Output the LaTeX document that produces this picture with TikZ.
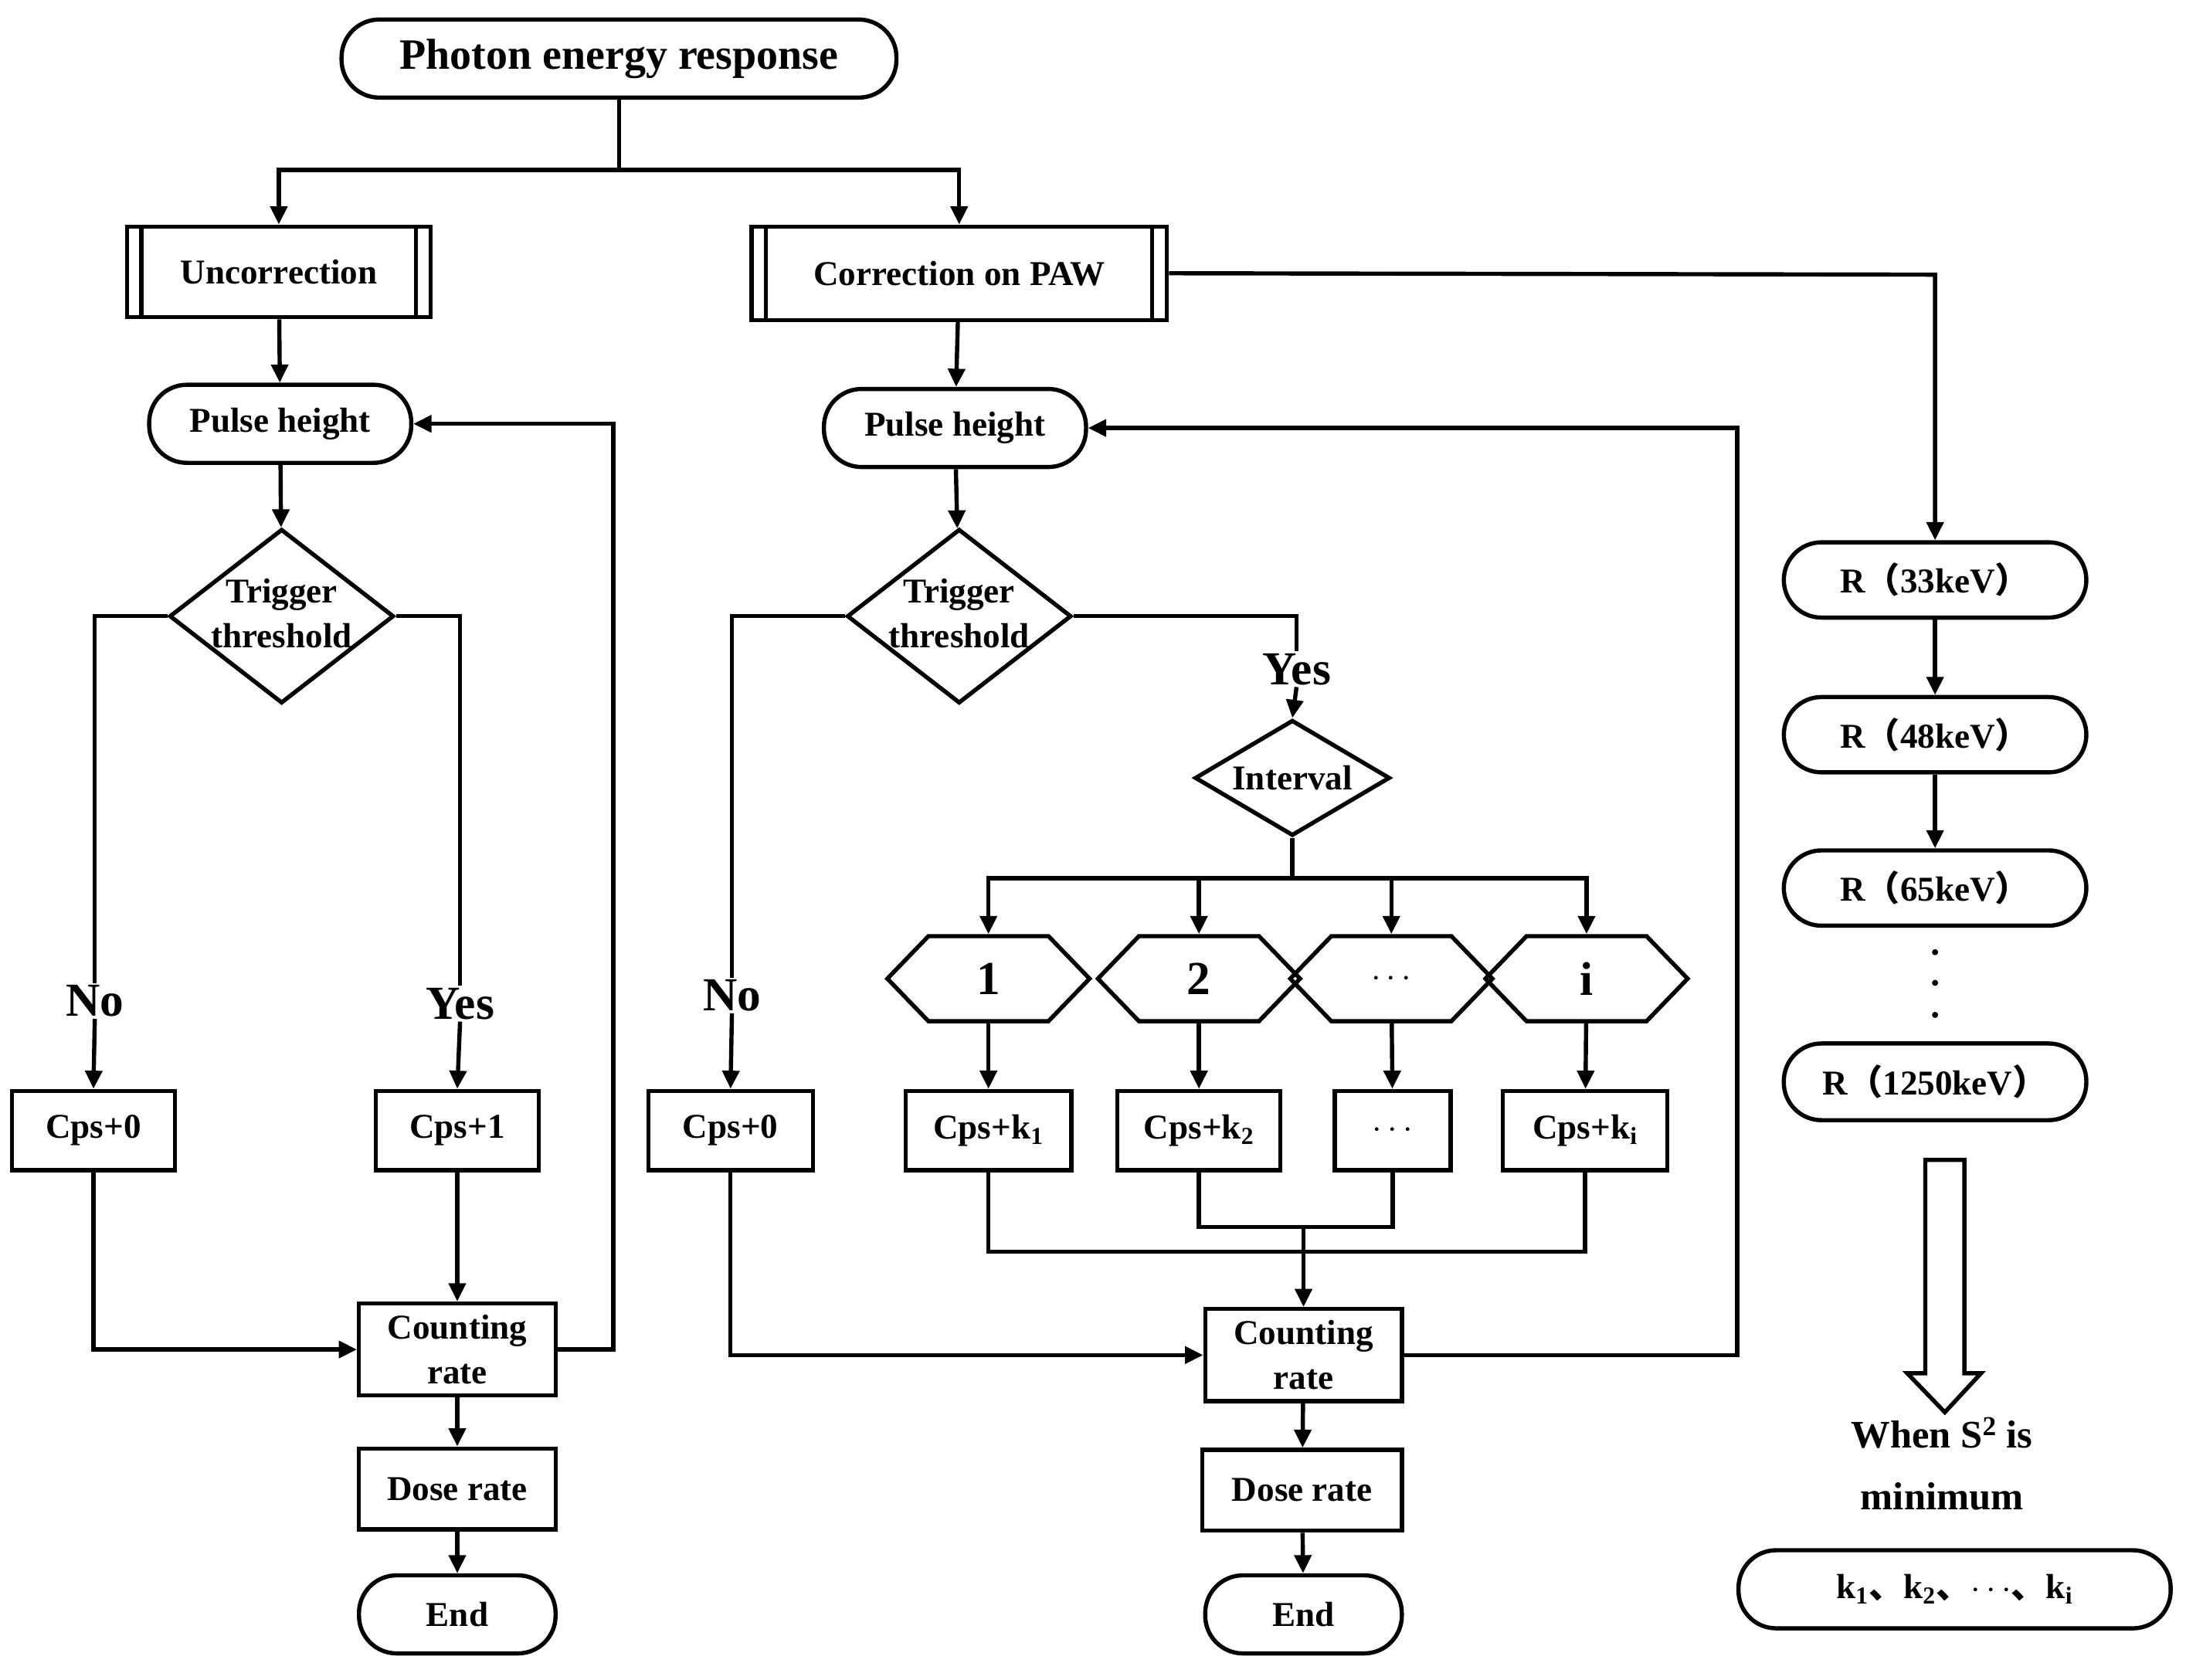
\documentclass[tikz,border=0pt]{standalone}
\usepackage{fontspec}
\setmainfont{Liberation Serif}
\newfontfamily\cjk{Noto Sans CJK SC}
\usetikzlibrary{shapes.geometric,shapes.symbols,arrows.meta}
\begin{document}
\begin{tikzpicture}[x=1pt,y=-1pt,
  every node/.style={font=\bfseries\fontsize{25}{28}\selectfont, line width=3pt, inner sep=0pt},
  box/.style={draw, rectangle, minimum width=#1, minimum height=57},
  rbox/.style={draw, rounded corners=27, minimum width=#1, minimum height=56},
  dia/.style={draw, diamond, minimum width=#1, minimum height=125},
  hex/.style={draw, signal, signal to=west and east, signal pointer angle=92, minimum width=145, minimum height=61},
  big/.style={font=\bfseries\fontsize{34}{38}\selectfont},
  line/.style={line width=3pt},
  arr/.style={line width=3pt, -{Triangle[length=13pt,width=12pt]}}]
\useasboundingbox (0,0) rectangle (1568,1205);
% top
\node[rbox=398, minimum height=56, font=\bfseries\fontsize{31}{34}\selectfont] (top) at (444,42) {Photon energy response};
\node[box=218, minimum height=65] (unc) at (200,195) {Uncorrection};
\node[box=298, minimum height=67] (cor) at (688,196) {Correction on PAW};
\foreach \n in {unc,cor}{
  \draw[line] ([xshift=12]\n.north west) -- ([xshift=12]\n.south west);
  \draw[line] ([xshift=-12]\n.north east) -- ([xshift=-12]\n.south east);}
\coordinate (tj) at (444,122);
\draw[line] (top.south) -- (tj);
\draw[arr] (tj) -| (unc.north);
\draw[arr] (tj) -| (cor.north);
% left branch
\node[rbox=188] (ph1) at (201,304) {Pulse height};
\node[dia=161] (d1) at (202,442) {};
\node at (202,440) [align=center, font=\bfseries\fontsize{25}{32}\selectfont] {Trigger\\threshold};
\node[box=117] (c01) at (67,811) {Cps+0};
\node[box=117] (c11) at (328,811) {Cps+1};
\node[box=141, minimum height=66, align=center, font=\bfseries\fontsize{25}{32}\selectfont] (cr1) at (328,968) {Counting\\rate};
\node[box=141, minimum height=58] (dr1) at (328,1068) {Dose rate};
\node[rbox=141] (e1) at (328,1158) {End};
\node[big] (no1) at (68,718) {No};
\node[big] (yes1) at (330,720) {Yes};
\draw[arr] (unc) -- (ph1);
\draw[arr] (ph1) -- (d1);
\draw[line] (d1.west) -| (no1.north);
\draw[arr] (no1.south) -- (c01.north);
\draw[line] (d1.east) -| (yes1.north);
\draw[arr] (yes1.south) -- (c11.north);
\draw[arr] (c11) -- (cr1);
\draw[arr] (c01.south) |- (cr1.west);
\coordinate (lr) at (440,968);
\draw[arr] (cr1.east) -- (lr) |- (ph1.east);
\draw[arr] (cr1) -- (dr1);
\draw[arr] (dr1) -- (e1);
% right branch
\node[rbox=188] (ph2) at (685,307) {Pulse height};
\node[dia=161] (d2) at (688,442) {};
\node at (688,440) [align=center, font=\bfseries\fontsize{25}{32}\selectfont] {Trigger\\threshold};
\node[big] (no2) at (525,714) {No};
\node[big] (yes2) at (930,480) {Yes};
\node[box=118] (c02) at (524,811) {Cps+0};
\node[draw, diamond, minimum width=140, minimum height=83] (iv) at (927,558) {};
\node at (927,558) {Interval};
\foreach \n/\x/\t in {h1/709/1,h2/860/2,h3/998/$\cdots$,h4/1138/i}
  \node[hex, big] (\n) at (\x,702) {\t};
\node[box=119] (k1) at (709,811) {Cps+k\textsubscript{1}};
\node[box=117] (k2) at (860,811) {Cps+k\textsubscript{2}};
\node[box=83] (k3) at (999,811) {$\cdots$};
\node[box=118] (k4) at (1137,811) {Cps+k\textsubscript{i}};
\node[box=141, minimum height=66, align=center, font=\bfseries\fontsize{25}{32}\selectfont] (cr2) at (935,972) {Counting\\rate};
\node[box=143, minimum height=58] (dr2) at (934,1069) {Dose rate};
\node[rbox=141] (e2) at (935,1158) {End};
\draw[arr] (cor) -- (ph2);
\draw[arr] (ph2) -- (d2);
\draw[line] (d2.west) -| (no2.north);
\draw[arr] (no2.south) -- (c02.north);
\draw[line] (d2.east) -| (yes2.north);
\draw[arr] (yes2.south) -- (iv.north);
\coordinate (ij) at (927,630);
\draw[line] (iv.south) -- (ij);
\foreach \n in {h1,h2,h3,h4} \draw[arr] (ij) -| (\n.north);
\draw[arr] (h1) -- (k1); \draw[arr] (h2) -- (k2); \draw[arr] (h3) -- (k3); \draw[arr] (h4) -- (k4);
\coordinate (j1) at (935,898); \coordinate (j2) at (935,880);
\draw[line] (k1.south) |- (j1) -| (k4.south);
\draw[line] (k2.south) |- (j2) -| (k3.south);
\draw[arr] (j2) -- (cr2.north);
\draw[arr] (c02.south) |- (cr2.west);
\coordinate (rr) at (1246,972);
\draw[arr] (cr2.east) -- (rr) |- (ph2.east);
\draw[arr] (cr2) -- (dr2);
\draw[arr] (dr2) -- (e2);
% far right
\node[rbox=217, minimum height=54] (r1) at (1388,416) {R{\cjk （}33keV{\cjk ）}};
\node[rbox=217, minimum height=54] (r2) at (1388,527) {R{\cjk （}48keV{\cjk ）}};
\node[rbox=217, minimum height=54] (r3) at (1388,637) {R{\cjk （}65keV{\cjk ）}};
\node[rbox=217, minimum height=55] (r4) at (1388,776) {R{\cjk （}1250keV{\cjk ）}};
\coordinate (cr) at (1388,197);
\draw[arr] (cor.east) -- (cr) -- (r1.north);
\draw[arr] (r1) -- (r2);
\draw[arr] (r2) -- (r3);
\foreach \y in {683,705,728} \fill (1388,\y) circle (2.2);
\draw[line, line join=miter] (1381,832) -- (1409,832) -- (1409,985) -- (1421,985) -- (1395,1013) -- (1368,985) -- (1381,985) -- cycle;
\node[align=center, font=\bfseries\fontsize{28}{44}\selectfont] (ws) at (1393,1050) {When S\textsuperscript{2} is\\minimum};
\node[rbox=310, minimum height=56] (kk) at (1402,1140) {k\textsubscript{1}{\cjk 、}k\textsubscript{2}{\cjk 、}$\cdots${\cjk 、}k\textsubscript{i}};
\end{tikzpicture}
\end{document}
